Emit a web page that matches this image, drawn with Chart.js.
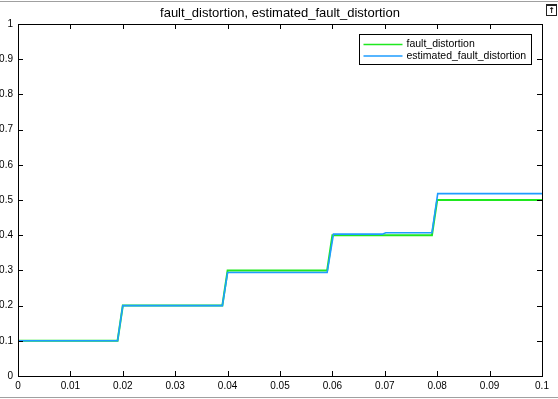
<!DOCTYPE html>
<html>
<head>
<meta charset="utf-8">
<script src="https://cdn.jsdelivr.net/npm/chart.js@4/dist/chart.umd.min.js"></script>
<style>
  html, body { margin: 0; padding: 0; background: #fff; }
  #wrap { position: relative; width: 558px; height: 399px; overflow: hidden; }
  #wrap canvas { position: absolute; left: 0; top: 0; }
  .edge { position: absolute; left: 0; width: 558px; height: 1px; background: #a0a0a0; }
  #dock { position: absolute; left: 546px; top: 4px; width: 9px; height: 9px; border: 1px solid #222;
          border-top-width: 2px; font: bold 8px "DejaVu Sans", sans-serif; line-height: 9px; text-align: center; color: #000; }
</style>
</head>
<body>
<div id="wrap">
  <div class="edge" style="top:1px"></div>
  <div class="edge" style="top:397px"></div>
  <canvas id="chart" width="558" height="399"></canvas>
  <div id="dock">&#x2191;</div>
</div>
<script>
const seriesNames = ["fault_distortion", "estimated_fault_distortion"];
const seriesColors = ["#1fe81f", "#1e9cff"];

// time (s) and values
const faultTime = [0, 0.019, 0.02, 0.039, 0.04, 0.059, 0.06, 0.079, 0.08, 0.1];
const faultDistortion = [0.1, 0.1, 0.2, 0.2, 0.3, 0.3, 0.4, 0.4, 0.5, 0.5];

const estTime = [0, 0.019, 0.02, 0.039, 0.04, 0.059, 0.0602, 0.0695, 0.0702, 0.079, 0.0801, 0.1];
const estimatedFaultDistortion = [0.1, 0.1, 0.2, 0.2, 0.294, 0.294, 0.403, 0.403, 0.407, 0.407, 0.518, 0.518];

const xTicks = [0, 0.01, 0.02, 0.03, 0.04, 0.05, 0.06, 0.07, 0.08, 0.09, 0.1];
const yTicks = [0, 0.1, 0.2, 0.3, 0.4, 0.5, 0.6, 0.7, 0.8, 0.9, 1];

const FONT = '"Liberation Sans", Arial, sans-serif';

function toPoints(xs, ys) {
  return xs.map((x, i) => ({ x, y: ys[i] }));
}

function fmt(v) {
  return String(Number(v.toFixed(3)));
}

// MATLAB-ish box: frame, inward ticks on all four sides, legend
const boxPlugin = {
  id: "matlabBox",
  afterDatasetsDraw(chart) {
    const { ctx, chartArea: a, scales } = chart;
    ctx.save();
    ctx.strokeStyle = "#000";
    ctx.lineWidth = 1;
    ctx.strokeRect(Math.round(a.left) + 0.5, Math.round(a.top) + 0.5,
      Math.round(a.right - a.left), Math.round(a.bottom - a.top));
    const len = 5;
    ctx.beginPath();
    xTicks.forEach((v) => {
      const px = Math.round(scales.x.getPixelForValue(v)) + 0.5;
      ctx.moveTo(px, a.bottom); ctx.lineTo(px, a.bottom - len);
      ctx.moveTo(px, a.top); ctx.lineTo(px, a.top + len);
    });
    yTicks.forEach((v) => {
      const py = Math.round(scales.y.getPixelForValue(v)) + 0.5;
      ctx.moveTo(a.left, py); ctx.lineTo(a.left + len, py);
      ctx.moveTo(a.right, py); ctx.lineTo(a.right - len, py);
    });
    ctx.stroke();

    // legend, top right inside the axes
    const lx = 359.5, ly = 34.5, lw = 172, lh = 30;
    ctx.fillStyle = "#fff";
    ctx.fillRect(lx, ly, lw, lh);
    ctx.strokeRect(lx, ly, lw, lh);
    ctx.font = "10.5px " + FONT;
    ctx.textBaseline = "middle";
    chart.data.datasets.forEach((ds, i) => {
      const y = ly + 10 + i * 11.5;
      ctx.strokeStyle = ds.borderColor;
      ctx.lineWidth = 1.5;
      ctx.beginPath();
      ctx.moveTo(lx + 4, y); ctx.lineTo(lx + 43, y);
      ctx.stroke();
      ctx.fillStyle = "#000";
      ctx.fillText(ds.label, lx + 47, y);
    });
    ctx.restore();
  },
};

new Chart(document.getElementById("chart").getContext("2d"), {
  type: "line",
  data: {
    datasets: [
      {
        label: seriesNames[0],
        data: toPoints(faultTime, faultDistortion),
        borderColor: seriesColors[0],
        borderWidth: 2,
        pointRadius: 0,
        tension: 0,
        order: 1,
      },
      {
        label: seriesNames[1],
        data: toPoints(estTime, estimatedFaultDistortion),
        borderColor: seriesColors[1],
        borderWidth: 1.6,
        pointRadius: 0,
        tension: 0,
        order: 0,
      },
    ],
  },
  options: {
    responsive: false,
    animation: false,
    events: [],
    layout: { padding: { left: 0, right: 16, top: 0, bottom: 0 } },
    plugins: {
      legend: { display: false },
      tooltip: { enabled: false },
      title: {
        display: true,
        text: seriesNames.join(", "),
        color: "#000",
        fullSize: false,
        font: { family: FONT, size: 13, weight: "normal", lineHeight: 1.2 },
        padding: { top: 6, bottom: 2.4 },
      },
    },
    scales: {
      x: {
        type: "linear",
        min: 0,
        max: 0.1,
        afterBuildTicks: (s) => { s.ticks = xTicks.map((v) => ({ value: v })); },
        afterFit: (s) => { s.height = 23; },
        ticks: { color: "#000", padding: 4, maxRotation: 0, autoSkip: false, font: { family: FONT, size: 10 }, callback: (v) => fmt(v) },
        grid: { display: false, drawTicks: false },
        border: { display: false },
      },
      y: {
        min: 0,
        max: 1,
        afterBuildTicks: (s) => { s.ticks = yTicks.map((v) => ({ value: v })); },
        afterFit: (s) => { s.width = 18; },
        ticks: { color: "#000", padding: 5, autoSkip: false, font: { family: FONT, size: 10 }, callback: (v) => fmt(v) },
        grid: { display: false, drawTicks: false },
        border: { display: false },
      },
    },
  },
  plugins: [boxPlugin],
});
</script>
</body>
</html>
